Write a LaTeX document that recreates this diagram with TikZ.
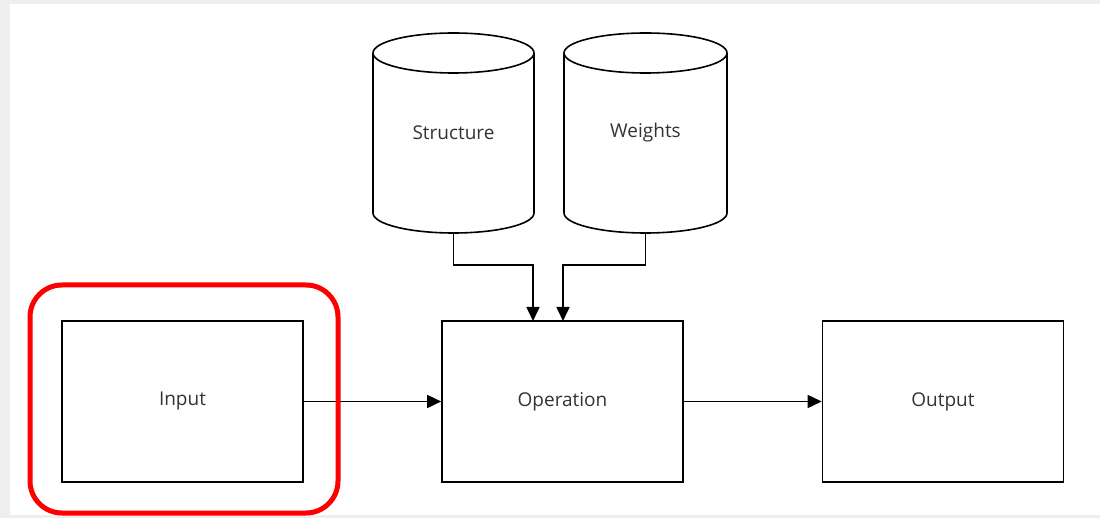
\documentclass[tikz,border=0pt]{standalone}
\usepackage{fontspec}
\setmainfont{Open Sans}
\usetikzlibrary{arrows.meta}
\definecolor{bggray}{HTML}{EEEEEE}
\definecolor{txtgray}{HTML}{333333}
\begin{document}
\begin{tikzpicture}[x=1pt,y=-1pt,
  box/.style={draw=black,line width=1.6pt,minimum width=241pt,minimum height=161pt,inner sep=0pt,
    font=\fontsize{19}{22}\selectfont,text=txtgray},
  lbl/.style={font=\fontsize{19}{22}\selectfont,text=txtgray},
  conn/.style={line width=1.6pt,-{Triangle[length=14pt,width=13pt]}},
  cyl/.style={draw=black,line width=1.6pt,fill=white}]
\useasboundingbox (0,0) rectangle (1100,518);
\fill[bggray] (0,0) rectangle (1100,518);
\fill[white] (10,4) rectangle (1100,515);
% boxes
\node[box] (in) at (182.5,401.5) {Input};
\node[box] (op) at (562.5,401.5) {Operation};
\node[box] (out) at (943,401.5) {Output};
% cylinders
\draw[cyl] (373,53) -- (373,213) arc[start angle=180,end angle=0,x radius=80.5,y radius=20] -- (534,53) arc[start angle=0,end angle=-180,x radius=80.5,y radius=20] -- cycle;
\draw[cyl] (373,53) arc[start angle=180,end angle=0,x radius=80.5,y radius=20];
\draw[cyl] (564,53) -- (564,213) arc[start angle=180,end angle=0,x radius=81.5,y radius=20] -- (727,53) arc[start angle=0,end angle=-180,x radius=81.5,y radius=20] -- cycle;
\draw[cyl] (564,53) arc[start angle=180,end angle=0,x radius=81.5,y radius=20];
\node[lbl] (st) at (453.5,133) {Structure};
\node[lbl] (wt) at (645.5,133) {Weights};
\coordinate (stb) at (453.5,233);
\coordinate (wtb) at (645.5,233);
% connectors
\draw[conn] (stb) -- (453.5,265) -- (533,265) -- (533,321);
\draw[conn] (wtb) -- (645.5,265) -- (563,265) -- (563,321);
\draw[conn] (in.east) -- (op.west);
\draw[conn] (op.east) -- (out.west);
% highlight
\draw[red,line width=5pt,rounded corners=32pt] (30,285) rectangle (338,513);
\end{tikzpicture}
\end{document}
